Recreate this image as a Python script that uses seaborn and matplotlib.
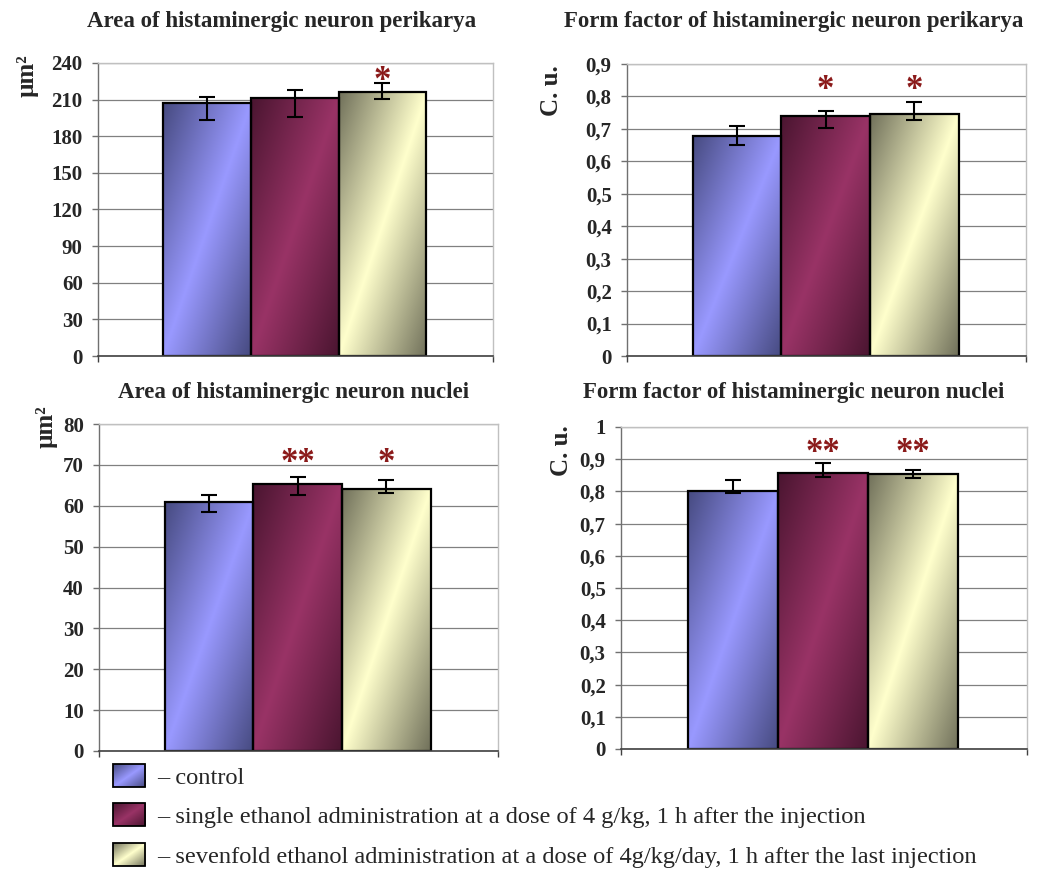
import numpy as np
import pandas as pd
import matplotlib
matplotlib.use('Agg')
import matplotlib.pyplot as plt
import seaborn as sns
from matplotlib.colors import to_rgb
from matplotlib.patches import Patch, Rectangle
from matplotlib.ticker import FuncFormatter, MultipleLocator
from matplotlib.legend_handler import HandlerBase
from matplotlib.image import BboxImage
from matplotlib.transforms import Bbox, TransformedBbox

# groups and legend text
groups = ['control', 'single', 'sevenfold']
legend_labels = ['\u2013 control',
                 '\u2013 single ethanol administration at a dose of 4 g/kg, 1 h after the injection',
                 '\u2013 sevenfold ethanol administration at a dose of 4g/kg/day, 1 h after the last injection']
light_colors = ['#9999FF', '#993366', '#FFFFCC']
dark_colors = ['#464A80', '#4A1530', '#70705A']

# panel values (mean, lower error, upper error)
titles = ['Area of histaminergic neuron perikarya',
          'Form factor of histaminergic neuron perikarya',
          'Area of histaminergic neuron nuclei',
          'Form factor of histaminergic neuron nuclei']
ylabels = ['\u00b5m\u00b2', 'C. u.', '\u00b5m\u00b2', 'C. u.']

peri_area = [207, 211, 216]
peri_area_lo = [14, 15, 5.5]
peri_area_hi = [5, 7, 7.5]
peri_area_marks = ['', '', '*']

peri_form = [0.679, 0.741, 0.745]
peri_form_lo = [0.030, 0.037, 0.017]
peri_form_hi = [0.029, 0.013, 0.039]
peri_form_marks = ['', '*', '*']

nuc_area = [61.0, 65.3, 64.2]
nuc_area_lo = [2.5, 2.6, 1.0]
nuc_area_hi = [1.7, 1.8, 2.2]
nuc_area_marks = ['', '**', '*']

nuc_form = [0.802, 0.857, 0.853]
nuc_form_lo = [0.007, 0.012, 0.011]
nuc_form_hi = [0.033, 0.030, 0.013]
nuc_form_marks = ['', '**', '**']

star_heights = [232, 0.843, 72.3, 0.943]
y_max = [240, 0.9, 80, 1.0]
y_step = [30, 0.1, 10, 0.1]

sns.set_style('white')
plt.rcParams['font.family'] = ['Liberation Serif', 'DejaVu Serif']

fig = plt.figure(figsize=(10.44, 8.69), dpi=100)
W, H = 1044, 869

# axes boxes in pixels: left, top, right, bottom
boxes = [(98, 63, 493, 356), (627, 64, 1026, 356),
         (99, 424, 498, 751), (621, 427, 1027, 749)]
title_pos = [(282, 21), (794, 21), (293, 393), (794, 393)]
ylabel_pos = [(27, 76), (552, 91), (46, 427), (561, 451)]


def gradient_array(light, dark, n=120):
    u = np.linspace(0, 1, n)[None, :]
    v = np.linspace(0, 1, n)[:, None]
    s = (np.abs((u + v) / 2 - 0.5) * 2)[..., None]
    return np.array(to_rgb(light)) * (1 - s) + np.array(to_rgb(dark)) * s


def gradient_bar(ax, patch, light, dark):
    x0, y0 = patch.get_x(), patch.get_y()
    w, h = patch.get_width(), patch.get_height()
    im = ax.imshow(gradient_array(light, dark, 200),
                   extent=[x0, x0 + w, y0, y0 + h], origin='upper',
                   aspect='auto', zorder=2, interpolation='bilinear')
    im.set_clip_path(patch)
    patch.set_facecolor('none')
    patch.set_zorder(2.5)


class GradientHandler(HandlerBase):
    def __init__(self, light, dark):
        super().__init__()
        self.light = light
        self.dark = dark

    def create_artists(self, legend, orig_handle, xdescent, ydescent,
                       width, height, fontsize, trans):
        bb = TransformedBbox(Bbox.from_bounds(-xdescent, -ydescent,
                                              width, height), trans)
        img = BboxImage(bb, interpolation='bilinear')
        img.set_data(gradient_array(self.light, self.dark, 60))
        rect = Rectangle((-xdescent, -ydescent), width, height,
                         facecolor='none', edgecolor='black', lw=1.3,
                         transform=trans)
        return [img, rect]


def fmt(v, pos):
    v = round(v, 2)
    return f'{v:g}'.replace('.', ',')


panels = [(peri_area, peri_area_lo, peri_area_hi, peri_area_marks),
          (peri_form, peri_form_lo, peri_form_hi, peri_form_marks),
          (nuc_area, nuc_area_lo, nuc_area_hi, nuc_area_marks),
          (nuc_form, nuc_form_lo, nuc_form_hi, nuc_form_marks)]

for i, (vals, lo, hi, marks) in enumerate(panels):
    l, t, r, b = boxes[i]
    ax = fig.add_axes([l / W, 1 - b / H, (r - l) / W, (b - t) / H])
    df = pd.DataFrame({'group': groups, 'value': vals})
    sns.barplot(data=df, x='group', y='value', hue='group', order=groups,
                hue_order=groups, palette=light_colors, width=1.0,
                edgecolor='black', linewidth=1.6, errorbar=None,
                legend=False, ax=ax)
    bars = sorted(ax.patches, key=lambda p: p.get_x())
    for p, lc, dc in zip(bars, light_colors, dark_colors):
        gradient_bar(ax, p, lc, dc)
    ax.errorbar(range(len(groups)), vals, yerr=[lo, hi], fmt='none',
                ecolor='black', elinewidth=1.5, capsize=5.5, capthick=1.5,
                zorder=4)
    for j, m in enumerate(marks):
        if m:
            ax.annotate(m, (j, star_heights[i]), xytext=(0, -6),
                        textcoords='offset points', ha='center', va='center',
                        color='#8B1A1A', fontsize=25, fontweight='bold',
                        zorder=5)

    xlim = (-1.24, 3.26)
    ax.set_xlim(xlim)
    ax.set_ylim(0, y_max[i])
    ax.yaxis.set_major_locator(MultipleLocator(y_step[i]))
    ax.yaxis.set_major_formatter(FuncFormatter(fmt))
    ax.set_xticks(list(xlim))
    ax.set_xticklabels(['', ''])
    ax.set_xlabel('')
    ax.set_ylabel('')
    ax.grid(axis='y', color='#808080', linewidth=0.9)
    ax.set_axisbelow(True)
    for side in ['top', 'right']:
        ax.spines[side].set_color('#C0C0C0')
        ax.spines[side].set_linewidth(1.0)
    ax.spines['left'].set_color('#707070')
    ax.spines['bottom'].set_color('#404040')
    ax.spines['left'].set_linewidth(1.0)
    ax.spines['bottom'].set_linewidth(1.2)
    ax.tick_params(axis='y', left=True, length=4, width=1, color='#707070',
                   labelsize=15, pad=7)
    ax.tick_params(axis='x', bottom=True, length=4, width=1, color='#404040')
    for lab in ax.get_yticklabels():
        lab.set_fontweight('bold')

    tx, ty = title_pos[i]
    fig.text(tx / W, 1 - ty / H, titles[i], ha='center', va='center',
             fontsize=16.5, fontweight='bold')
    lx, ly = ylabel_pos[i]
    fig.text(lx / W, 1 - ly / H, ylabels[i], ha='center', va='center',
             rotation=90, fontsize=18, fontweight='bold')

handles = [Patch(facecolor=c, edgecolor='black') for c in light_colors]
handler_map = {h: GradientHandler(lc, dc)
               for h, lc, dc in zip(handles, light_colors, dark_colors)}
fig.legend(handles, legend_labels, loc='upper left', handler_map=handler_map,
           bbox_to_anchor=(113 / W, 1 - 764 / H), frameon=False,
           fontsize=17.6, handlelength=1.32, handleheight=1.07,
           handletextpad=0.5, labelspacing=0.6, borderpad=0,
           borderaxespad=0)

fig.savefig('out.png', dpi=100)
